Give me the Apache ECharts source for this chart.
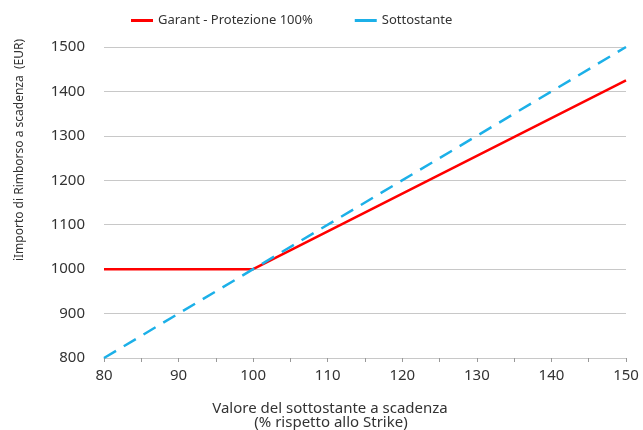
<!DOCTYPE html>
<html><head><meta charset="utf-8">
<script src="https://cdn.jsdelivr.net/npm/echarts@6/dist/echarts.min.js"></script>
<style>html,body{margin:0;padding:0;background:#fff}#c{width:643px;height:430px}</style>
</head><body><div id="c"></div>
<script>
const seriesNames = ["Garant - Protezione 100%", "Sottostante"];
const garantX = [80, 100, 150];
const garantY = [1000, 1000, 1425];
const sottoX = [80, 150];
const sottoY = [800, 1500];
const xTicks = [80, 90, 100, 110, 120, 130, 140, 150];
const yTicks = [800, 900, 1000, 1100, 1200, 1300, 1400, 1500];
const xTitle = ["Valore del sottostante a scadenza", "(% rispetto allo Strike)"];
const yTitle = "iImporto di Rimborso a scadenza  (EUR)";

const font = "Noto Sans";
const chart = echarts.init(document.getElementById('c'), null, {renderer: 'canvas'});
chart.setOption({
  animation: false,
  grid: {left: 104, right: 17, top: 47, bottom: 72},
  legend: {
    top: 9, left: 126, itemGap: 42, itemWidth: 22, itemHeight: 3,
    textStyle: {fontFamily: font, fontSize: 13, color: '#333'},
    data: seriesNames.map(n => ({name: n, icon: 'rect'}))
  },
  xAxis: {
    type: 'value', min: xTicks[0], max: xTicks[xTicks.length - 1], interval: 5,
    axisLine: {lineStyle: {color: '#c8c8c8', width: 1}},
    axisTick: {show: true, length: 4, lineStyle: {color: '#999'}},
    splitLine: {show: false},
    axisLabel: {fontFamily: font, fontSize: 15, color: '#333', margin: 10,
      formatter: v => xTicks.includes(v) ? String(v) : ''}
  },
  yAxis: {
    type: 'value', min: yTicks[0], max: yTicks[yTicks.length - 1], interval: 100,
    axisLine: {show: false}, axisTick: {show: false},
    splitLine: {lineStyle: {color: '#c8c8c8', width: 1}},
    axisLabel: {fontFamily: font, fontSize: 15, color: '#333', margin: 19,
      formatter: v => String(v)}
  },
  graphic: [
    {type: 'text', x: 330, y: 401, style: {text: xTitle[0], textAlign: 'center', textVerticalAlign: 'top', font: '15px "Noto Sans"', fill: '#333'}},
    {type: 'text', x: 331, y: 415, style: {text: xTitle[1], textAlign: 'center', textVerticalAlign: 'top', font: '15px "Noto Sans"', fill: '#333'}},
    {type: 'text', x: 20, y: 150, rotation: Math.PI / 2, style: {text: yTitle, textAlign: 'center', textVerticalAlign: 'middle', font: '12px "Noto Sans"', fill: '#333'}}
  ],
  series: [
    {name: seriesNames[0], type: 'line', symbol: 'none', z: 2,
     lineStyle: {color: '#ff0000', width: 2.5}, itemStyle: {color: '#ff0000'},
     data: garantX.map((x, i) => [x, garantY[i]])},
    {name: seriesNames[1], type: 'line', symbol: 'none', z: 3,
     lineStyle: {color: '#1cb0e8', width: 2.5, type: [14, 9]}, itemStyle: {color: '#1cb0e8'},
     data: sottoX.map((x, i) => [x, sottoY[i]])}
  ]
});
</script></body></html>
